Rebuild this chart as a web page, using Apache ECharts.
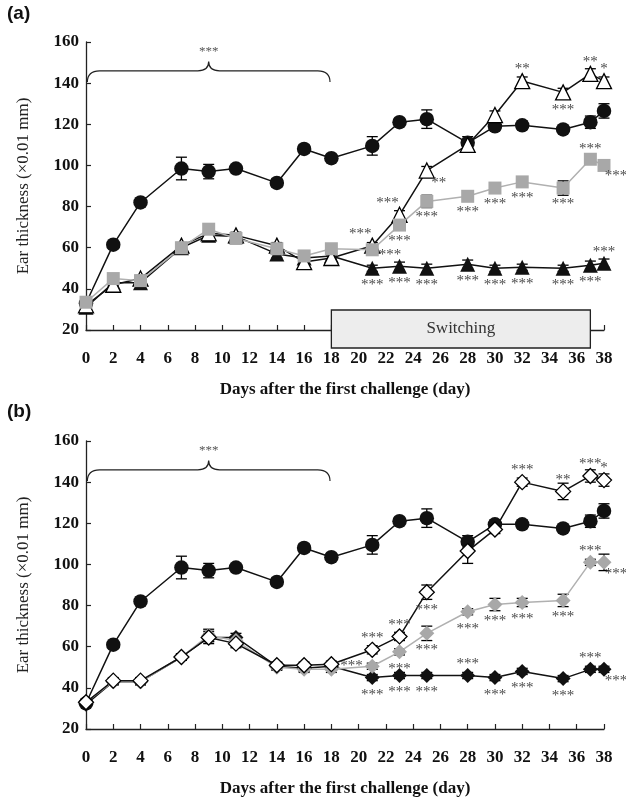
<!DOCTYPE html>
<html>
<head>
<meta charset="utf-8">
<script src="https://cdn.jsdelivr.net/npm/echarts@6/dist/echarts.min.js"></script>
<style>
  html, body { margin: 0; padding: 0; background: #fff; }
  #chart { width: 626px; height: 799px; }
</style>
</head>
<body>
<div id="chart"></div>
<script>
// 采样日 (day)
const days = [0, 2, 4, 7, 9, 11, 14, 16, 18, 21, 23, 25, 28, 30, 32, 35, 37, 38];
const yTicks = [20, 40, 60, 80, 100, 120, 140, 160];
const xTicks = [0, 2, 4, 6, 8, 10, 12, 14, 16, 18, 20, 22, 24, 26, 28, 30, 32, 34, 36, 38];

// (a) 面板
const circleA   = [33, 61.5, 82, 98.5, 97, 98.5, 91.5, 108, 103.5, 109.5, 121, 122.5, 111, 119, 119.5, 117.5, 121, 126.5];
const openTriA  = [32, 42, 45, 61, 67, 66, 61, 53, 55, 61, 76, 97.5, 110, 124.5, 141, 135.5, 144.5, 141];
const squareA   = [33.5, 45, 44, 60, 69, 64.5, 59.5, 56, 59.5, 59, 71, 82.5, 85, 89, 92, 89, 103, 100];
const blackTriA = [31, 43, 43, 60, 66, 65.5, 57, 55, 56, 50, 51, 50, 52, 50, 50.5, 50, 51.5, 52.5];

const circleErrA   = [1, 1.5, 2, 5.5, 3.5, 1.5, 2, 2, 1.5, 4.5, 1.5, 4.5, 3, 2, 2, 1.5, 3, 3.5];
const openTriErrA  = [1, 1.5, 1.5, 1.5, 2, 1.5, 1.5, 1.5, 1.5, 1.5, 2, 2, 2.5, 2, 2, 2, 2.5, 2];
const squareErrA   = [1, 1.5, 1.5, 1.5, 1.5, 1.5, 2, 1.5, 1.5, 1.5, 2, 3, 1.5, 1.5, 2, 3.5, 2, 2];
const blackTriErrA = [1, 1.5, 1.5, 1.5, 2, 1.5, 2, 1.5, 1.5, 1.5, 2, 2, 2, 1.5, 1.5, 1.5, 2, 2];

const openTriSigA  = ['', '', '', '', '', '', '', '', '', '***', '***', '**', '', '', '**', '***', '**', '*'];
const squareSigA   = ['', '', '', '', '', '', '', '', '', '***', '***', '***', '***', '***', '***', '***', '***', '***'];
const blackTriSigA = ['', '', '', '', '', '', '', '', '', '***', '***', '***', '***', '***', '***', '***', '***', '***'];

// (b) 面板
const circleB   = [32.5, 61, 82, 98.5, 97, 98.5, 91.5, 108, 103.5, 109.5, 121, 122.5, 111, 119.5, 119.5, 117.5, 121, 126];
const openDiaB  = [33, 43.5, 43.5, 55, 64.5, 61.5, 51, 51, 51.5, 58.5, 65, 86.5, 106.5, 117, 140, 135.5, 143, 141];
const grayDiaB  = [33, 43, 43, 55, 65.5, 63, 50, 49, 49, 50.5, 57.5, 66.5, 77, 80.5, 81.5, 82.5, 101, 101];
const blackDiaB = [32, 43, 43, 55, 64.5, 64.5, 50.5, 49.5, 50.5, 45, 46, 46, 46, 45, 48, 44.5, 49, 49];

const circleErrB   = [1, 1.5, 2, 5.5, 3.5, 1.5, 2, 2, 1.5, 4.5, 1.5, 4.5, 3, 2, 2, 1.5, 3, 3.5];
const openDiaErrB  = [1, 1.5, 1.5, 1.5, 3, 2, 1.5, 1.5, 1.5, 2, 2, 3.5, 6, 2, 2, 4, 3, 3];
const grayDiaErrB  = [1, 1.5, 1.5, 1.5, 3, 2, 1.5, 1.5, 1.5, 1.5, 1.5, 3.5, 1.5, 3, 2, 3, 1.5, 4];
const blackDiaErrB = [1, 1.5, 1.5, 1.5, 2, 2, 1.5, 1.5, 1.5, 1.5, 1.5, 1.5, 1.5, 1.5, 1.5, 1.5, 1.5, 1.5];

const openDiaSigB  = ['', '', '', '', '', '', '', '', '', '***', '***', '***', '', '', '***', '**', '***', '*'];
const grayDiaSigB  = ['', '', '', '', '', '', '', '', '', '***', '***', '***', '***', '***', '***', '***', '***', '***'];
const blackDiaSigB = ['', '', '', '', '', '', '', '', '', '***', '***', '***', '***', '***', '***', '***', '***', '***'];

// 括号 / Switching 区间
const braceDays = [0, 18];
const braceSig = '***';
const switchDays = [18, 37];
const switchText = 'Switching';

// ---- 标注位置 (t 上, b 下, tl 左上, br 右下, l 左, r 右) ----
const openTriPosA  = ['', '', '', '', '', '', '', '', '', 'tl', 'tl', 'br', '', '', 't', 'b', 't', 't'];
const squarePosA   = ['', '', '', '', '', '', '', '', '', 'r', 'b', 'b', 'b', 'b', 'b', 'b', 't', 'br'];
const blackTriPosA = ['', '', '', '', '', '', '', '', '', 'b', 'b', 'b', 'b', 'b', 'b', 'b', 'b', 't'];
const openDiaPosB  = ['', '', '', '', '', '', '', '', '', 't', 't', 'b', '', '', 't', 't', 't', 't'];
const grayDiaPosB  = ['', '', '', '', '', '', '', '', '', 'l', 'b', 'b', 'b', 'b', 'b', 'b', 't', 'br'];
const blackDiaPosB = ['', '', '', '', '', '', '', '', '', 'b', 'b', 'b', 't', 'b', 'b', 'b', 't', 'br'];

const SERIF = 'Liberation Serif';
const sigText = { fontFamily: SERIF, fontSize: 15, color: '#4a4a4a' };
const placeStyle = {
  t:  { position: 'top', distance: -4 },
  b:  { position: 'bottom', distance: 2 },
  tl: { position: 'top', distance: -4, offset: [-12, 0] },
  br: { position: 'bottom', distance: 2, offset: [12, -5] },
  l:  { position: 'left', distance: 2 },
  r:  { position: 'right', distance: 0, offset: [0, 5] }
};

function points(vals, sigs, pos) {
  return days.map((d, i) => {
    const item = { value: [d, vals[i]] };
    if (sigs[i]) {
      item.label = Object.assign({ show: true, formatter: sigs[i] }, sigText, placeStyle[pos[i]]);
    }
    return item;
  });
}

function errData(vals, errs) {
  return days.map((d, i) => [d, vals[i] - errs[i], vals[i] + errs[i]]);
}

function renderErr(params, api) {
  const x = api.value(0);
  const top = api.coord([x, api.value(2)]);
  const bot = api.coord([x, api.value(1)]);
  const w = 5.5;
  const st = { stroke: '#000', lineWidth: 1.3 };
  return {
    type: 'group',
    children: [
      { type: 'line', shape: { x1: top[0], y1: top[1], x2: bot[0], y2: bot[1] }, style: st },
      { type: 'line', shape: { x1: top[0] - w, y1: top[1], x2: top[0] + w, y2: top[1] }, style: st },
      { type: 'line', shape: { x1: bot[0] - w, y1: bot[1], x2: bot[0] + w, y2: bot[1] }, style: st }
    ]
  };
}

function errSeries(idx, vals, errs) {
  return {
    type: 'custom', xAxisIndex: idx, yAxisIndex: idx, z: 1, silent: true,
    encode: { x: 0, y: [1, 2] },
    renderItem: renderErr,
    data: errData(vals, errs)
  };
}

function lineSeries(idx, vals, sigs, pos, symbol, size, fill, lineColor) {
  return {
    type: 'line', xAxisIndex: idx, yAxisIndex: idx, z: 3,
    symbol: symbol, symbolSize: size,
    itemStyle: { color: fill, borderColor: '#000', borderWidth: fill === '#fff' ? 1.3 : 0 },
    lineStyle: { color: lineColor, width: 1.5 },
    label: { show: false },
    data: points(vals, sigs, pos)
  };
}

// 花括号 + ***
function braceSeries(idx) {
  return {
    type: 'custom', xAxisIndex: idx, yAxisIndex: idx, z: 2, silent: true,
    data: [[braceDays[0], braceDays[1]]],
    renderItem: function (params, api) {
      const x0 = api.value(0), x1 = api.value(1), xm = (x0 + x1) / 2;
      const L = api.coord([x0 + 0.1, 140.5]);
      const A = api.coord([x0 + 1, 146]);
      const M1 = api.coord([xm - 0.8, 146]);
      const P = api.coord([xm, 150.5]);
      const M2 = api.coord([xm + 0.8, 146]);
      const B = api.coord([x1 - 1, 146]);
      const R = api.coord([x1 - 0.1, 140.5]);
      const d = 'M' + L[0] + ' ' + L[1] +
        ' Q' + L[0] + ' ' + A[1] + ' ' + A[0] + ' ' + A[1] +
        ' L' + M1[0] + ' ' + M1[1] +
        ' Q' + P[0] + ' ' + M1[1] + ' ' + P[0] + ' ' + P[1] +
        ' Q' + P[0] + ' ' + M2[1] + ' ' + M2[0] + ' ' + M2[1] +
        ' L' + B[0] + ' ' + B[1] +
        ' Q' + R[0] + ' ' + B[1] + ' ' + R[0] + ' ' + R[1];
      return {
        type: 'group',
        children: [
          { type: 'path', shape: { pathData: d }, style: { fill: null, stroke: '#222', lineWidth: 1.2 } },
          { type: 'text', x: P[0], y: P[1] - 3,
            style: { text: braceSig, fontFamily: SERIF, fontSize: 13, fill: '#555', align: 'center', verticalAlign: 'bottom' } }
        ]
      };
    }
  };
}

// Switching 方框
function switchSeries(idx) {
  return {
    type: 'custom', xAxisIndex: idx, yAxisIndex: idx, z: 5, silent: true,
    data: [[switchDays[0], switchDays[1]]],
    renderItem: function (params, api) {
      const a = api.coord([api.value(0), 20]);
      const b = api.coord([api.value(1), 20]);
      return {
        type: 'group',
        children: [
          { type: 'rect', shape: { x: a[0], y: a[1] - 20, width: b[0] - a[0], height: 38 },
            style: { fill: '#ededed', stroke: '#222', lineWidth: 1.3 } },
          { type: 'text', x: (a[0] + b[0]) / 2, y: a[1] - 1,
            style: { text: switchText, fontFamily: SERIF, fontSize: 17, fill: '#333', align: 'center', verticalAlign: 'middle' } }
        ]
      };
    }
  };
}

function xAxis(idx) {
  return {
    type: 'value', gridIndex: idx, min: xTicks[0], max: xTicks[xTicks.length - 1], interval: 2,
    name: 'Days after the first challenge (day)', nameLocation: 'middle', nameGap: 51,
    nameTextStyle: { fontFamily: SERIF, fontSize: 17, fontWeight: 'bold', color: '#111' },
    axisLine: { lineStyle: { color: '#222', width: 1.3 } },
    axisTick: { inside: true, length: 5, lineStyle: { color: '#222', width: 1.2 } },
    axisLabel: { margin: 20, fontFamily: SERIF, fontSize: 17, fontWeight: 'bold', color: '#111' },
    splitLine: { show: false }
  };
}

function yAxis(idx) {
  return {
    type: 'value', gridIndex: idx, min: yTicks[0], max: yTicks[yTicks.length - 1], interval: 20,
    name: 'Ear thickness (\u00d70.01 mm)', nameLocation: 'middle', nameGap: 54, nameRotate: 90,
    nameTextStyle: { fontFamily: SERIF, fontSize: 17, color: '#222' },
    axisLine: { show: true, lineStyle: { color: '#222', width: 1.3 } },
    axisTick: { show: true, inside: true, length: 5, lineStyle: { color: '#222', width: 1.2 } },
    axisLabel: { margin: 7, fontFamily: SERIF, fontSize: 17, fontWeight: 'bold', color: '#111' },
    splitLine: { show: false }
  };
}

const chart = echarts.init(document.getElementById('chart'));
chart.setOption({
  animation: false,
  backgroundColor: '#fff',
  grid: [
    { left: 86, top: 42, width: 518, height: 288 },
    { left: 86, top: 441, width: 518, height: 288 }
  ],
  xAxis: [xAxis(0), xAxis(1)],
  yAxis: [yAxis(0), yAxis(1)],
  graphic: [
    { type: 'text', left: 7, top: 4, style: { text: '(a)', fontFamily: 'Liberation Sans', fontSize: 19, fontWeight: 'bold', fill: '#111' } },
    { type: 'text', left: 7, top: 402, style: { text: '(b)', fontFamily: 'Liberation Sans', fontSize: 19, fontWeight: 'bold', fill: '#111' } }
  ],
  series: [
    braceSeries(0),
    braceSeries(1),
    switchSeries(0),
    // (a)
    errSeries(0, circleA, circleErrA),
    errSeries(0, blackTriA, blackTriErrA),
    errSeries(0, openTriA, openTriErrA),
    errSeries(0, squareA, squareErrA),
    lineSeries(0, circleA, [], [], 'circle', 14.5, '#111', '#111'),
    lineSeries(0, blackTriA, blackTriSigA, blackTriPosA, 'triangle', 15, '#111', '#111'),
    lineSeries(0, openTriA, openTriSigA, openTriPosA, 'triangle', 15, '#fff', '#111'),
    lineSeries(0, squareA, squareSigA, squarePosA, 'rect', 13, '#a8a8a8', '#b0b0b0'),
    // (b)
    errSeries(1, circleB, circleErrB),
    errSeries(1, blackDiaB, blackDiaErrB),
    errSeries(1, grayDiaB, grayDiaErrB),
    errSeries(1, openDiaB, openDiaErrB),
    lineSeries(1, circleB, [], [], 'circle', 14.5, '#111', '#111'),
    lineSeries(1, blackDiaB, blackDiaSigB, blackDiaPosB, 'diamond', 15, '#111', '#111'),
    lineSeries(1, grayDiaB, grayDiaSigB, grayDiaPosB, 'diamond', 15, '#a8a8a8', '#b0b0b0'),
    lineSeries(1, openDiaB, openDiaSigB, openDiaPosB, 'diamond', 15, '#fff', '#111')
  ]
});
</script>
</body>
</html>
